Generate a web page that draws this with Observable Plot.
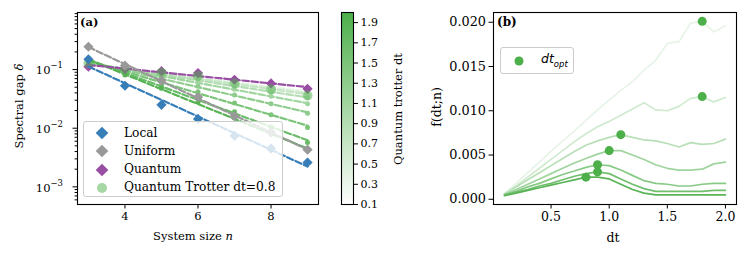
<!DOCTYPE html>
<html><head><meta charset="utf-8">
<script src="https://cdn.jsdelivr.net/npm/d3@7"></script>
<script src="https://cdn.jsdelivr.net/npm/@observablehq/plot@0.6"></script>
<style>
body{margin:0;background:#fff;}
#wrap{position:relative;width:748px;height:257px;font-family:"DejaVu Serif","Liberation Serif",serif;font-size:11px;color:#000;overflow:hidden;}
#wrap > *{position:absolute;}
.rot{transform:translate(-50%,-50%) rotate(-90deg);white-space:nowrap;}
.ctr{transform:translate(-50%,-50%);white-space:nowrap;}
.leg{background:rgba(255,255,255,0.8);border:1px solid #cccccc;border-radius:3px;box-sizing:border-box;}
.row{position:absolute;white-space:nowrap;line-height:1;}
</style></head><body><div id="wrap"></div>
<script>
// ---------- Panel (a) data ----------
const sizes = [3, 4, 5, 6, 7, 8, 9];
const localGap   = [0.150, 0.053, 0.025, 0.0144, 0.0074, 0.0045, 0.0026];
const uniformGap = [0.245, 0.117, 0.065, 0.034, 0.016, 0.0085, 0.0043];
const quantumGap = [0.112, 0.102, 0.094, 0.087, 0.067, 0.058, 0.047];
const trotterDt = [0.1, 0.3, 0.5, 0.7, 0.9, 1.1, 1.3, 1.5, 1.7, 1.9];
const trotterGap = [
  [0.118, 0.100, 0.089, 0.080, 0.062, 0.053, 0.043],
  [0.120, 0.100, 0.088, 0.078, 0.060, 0.051, 0.041],
  [0.122, 0.101, 0.087, 0.076, 0.058, 0.049, 0.039],
  [0.125, 0.101, 0.085, 0.073, 0.056, 0.047, 0.037],
  [0.128, 0.100, 0.082, 0.068, 0.052, 0.042, 0.033],
  [0.131, 0.099, 0.078, 0.061, 0.046, 0.035, 0.026],
  [0.133, 0.095, 0.071, 0.052, 0.037, 0.026, 0.018],
  [0.135, 0.090, 0.062, 0.042, 0.027, 0.017, 0.0103],
  [0.138, 0.085, 0.054, 0.033, 0.019, 0.0105, 0.0057],
  [0.140, 0.081, 0.048, 0.028, 0.015, 0.0080, 0.0042]
];
const highlightDt = 0.8;
const highlightGap = [0.128, 0.102, 0.088, 0.078, 0.058, 0.046, 0.036];
const yTicksA = [1e-3, 1e-2, 1e-1];
const xTicksA = [4, 6, 8];
const cbarTicks = [0.1, 0.3, 0.5, 0.7, 0.9, 1.1, 1.3, 1.5, 1.7, 1.9];

// ---------- Panel (b) data ----------
const dtGrid = [0.1,0.2,0.3,0.4,0.5,0.6,0.7,0.8,0.9,1.0,1.1,1.2,1.3,1.4,1.5,1.6,1.7,1.8,1.9,2.0];
const fSizes = [3, 4, 5, 6, 7, 8, 9];
const fValues = [
  [0.0006,0.0018,0.0030,0.0042,0.0054,0.0066,0.0077,0.0089,0.0101,0.0112,0.0123,0.0133,0.0146,0.0157,0.0176,0.0178,0.0199,0.0201,0.0189,0.0196],
  [0.0006,0.0015,0.0025,0.0035,0.0045,0.0055,0.0065,0.0074,0.0082,0.0088,0.0095,0.0102,0.0109,0.0101,0.0100,0.0105,0.0114,0.0116,0.0110,0.0115],
  [0.0006,0.0014,0.0022,0.0030,0.0038,0.0046,0.0054,0.0061,0.0066,0.0070,0.0073,0.0070,0.0067,0.0066,0.0063,0.0059,0.0064,0.0062,0.0063,0.0068],
  [0.0005,0.0011,0.0017,0.0023,0.0029,0.0035,0.0041,0.0046,0.0051,0.0055,0.0055,0.0050,0.0045,0.0039,0.0035,0.0033,0.0033,0.0034,0.0040,0.0042],
  [0.0005,0.0009,0.0014,0.0018,0.0023,0.0028,0.0032,0.0036,0.0039,0.0038,0.0033,0.0027,0.0021,0.0018,0.0017,0.0015,0.0015,0.0017,0.0018,0.0018],
  [0.0005,0.0008,0.0011,0.0015,0.0018,0.0022,0.0026,0.0029,0.0031,0.0029,0.0023,0.0017,0.0012,0.0009,0.0009,0.0009,0.0009,0.0009,0.0010,0.0010],
  [0.0004,0.0007,0.0010,0.0013,0.0016,0.0019,0.0022,0.0025,0.0025,0.0023,0.0017,0.0011,0.0007,0.0005,0.0005,0.0005,0.0005,0.0005,0.0005,0.0005]
];
const dtOpt = [1.8, 1.8, 1.1, 1.0, 0.9, 0.9, 0.8];
const fOpt = [0.0201, 0.0116, 0.0073, 0.0055, 0.0039, 0.0031, 0.0025];
const xTicksB = [0.5, 1.0, 1.5, 2.0];
const yTicksB = [0, 0.005, 0.010, 0.015, 0.020];

// ---------- helpers ----------
const FONT = "'DejaVu Serif', 'Liberation Serif', serif";
const GREEN = "#4daf4a", BLUE = "#377eb8", GRAY = "#999999", PURPLE = "#984ea3";
function fitLine(vals) {
  const lx = sizes, ly = vals.map(Math.log10);
  const mx = d3.mean(lx), my = d3.mean(ly);
  const b = d3.sum(lx, (x, i) => (x - mx) * (ly[i] - my)) / d3.sum(lx, x => (x - mx) ** 2);
  return d3.extent(sizes).map(n => ({n, v: 10 ** (my + b * (n - mx))}));
}
const pts = vals => sizes.map((n, i) => ({n, v: vals[i]}));
const minorA = [];
for (let k = -4; k <= 0; k++) for (let m = 2; m <= 9; m++) { const v = m * 10 ** k; if (v > 5e-4 && v < 0.94) minorA.push(v); }

const trotRows = trotterDt.flatMap((dt, j) => sizes.map((n, i) => ({dt, n, v: trotterGap[j][i]})));
const trotFit = trotterDt.flatMap((dt, j) => fitLine(trotterGap[j]).map(p => ({...p, dt})));

const dash = "6.5,2.6";
const colorA = {type: "linear", domain: [0.1, 2.0], range: ["#ffffff", GREEN]};
const baseStyle = {fontFamily: FONT, fontSize: "11px", color: "#000", background: "transparent", overflow: "visible"};

const plotA = Plot.plot({
  width: 330, height: 257, marginLeft: 77, marginRight: 12, marginTop: 12, marginBottom: 53,
  style: baseStyle,
  x: {domain: [2.7, 9.3]},
  y: {type: "log", domain: [5e-4, 0.94]},
  color: colorA,
  marks: [
    Plot.axisY({ticks: minorA, tickSize: 2.4, tickFormat: () => "", label: null}),
    Plot.axisY({ticks: yTicksA, tickSize: 4.5, tickFormat: () => "", label: null}),
    Plot.text(yTicksA, {y: d => d, frameAnchor: "left", text: () => "10", textAnchor: "end", dx: -27, dy: 1, fontSize: 11.5}),
    Plot.text(yTicksA, {y: d => d, frameAnchor: "left", text: d => "\u2212" + Math.round(-Math.log10(d)), textAnchor: "start", dx: -27, dy: -4, fontSize: 8.5}),
    Plot.axisX({ticks: xTicksA, tickSize: 4.5, tickPadding: 3, tickFormat: d3.format("d"), label: null, fontSize: 11.5}),
    Plot.line(trotFit, {x: "n", y: "v", z: "dt", stroke: "dt", strokeWidth: 2.2, strokeDasharray: dash}),
    Plot.dot(trotRows, {x: "n", y: "v", fill: "dt", r: 2.5}),
    Plot.line(fitLine(quantumGap), {x: "n", y: "v", stroke: PURPLE, strokeWidth: 2.2, strokeDasharray: dash}),
    Plot.dot(pts(quantumGap), {x: "n", y: "v", symbol: "diamond2", r: 4.6, fill: PURPLE}),
    Plot.dot(pts(highlightGap), {x: "n", y: "v", r: 5, fill: GREEN, fillOpacity: 0.5}),
    Plot.line(fitLine(localGap), {x: "n", y: "v", stroke: BLUE, strokeWidth: 2.2, strokeDasharray: dash}),
    Plot.dot(pts(localGap), {x: "n", y: "v", symbol: "diamond2", r: 4.6, fill: BLUE}),
    Plot.line(fitLine(uniformGap), {x: "n", y: "v", stroke: GRAY, strokeWidth: 2.2, strokeDasharray: dash}),
    Plot.dot(pts(uniformGap), {x: "n", y: "v", symbol: "diamond2", r: 4.6, fill: GRAY}),
    Plot.frame({stroke: "#000", strokeWidth: 1.1})
  ]
});

const plotC = Plot.plot({
  width: 90, height: 257, marginLeft: 11, marginRight: 67, marginTop: 12, marginBottom: 53,
  style: baseStyle,
  x: {domain: [0, 1], axis: null},
  y: {domain: [0.1, 2.0]},
  color: colorA,
  marks: [
    Plot.raster({x1: 0, x2: 1, y1: 0.1, y2: 2.0, fill: (x, y) => y, pixelSize: 1}),
    Plot.axisY({anchor: "right", ticks: cbarTicks, tickSize: 4, tickPadding: 3, tickFormat: d3.format(".1f"), label: null, fontSize: 11}),
    Plot.frame({stroke: "#000", strokeWidth: 1.1})
  ]
});

const fRows = fSizes.flatMap((n, j) => dtGrid.map((dt, i) => ({n, dt, f: fValues[j][i]})));
const optRows = fSizes.map((n, j) => ({n, dt: dtOpt[j], f: fOpt[j]}));

const plotB = Plot.plot({
  width: 328, height: 257, marginLeft: 73, marginRight: 12, marginTop: 12, marginBottom: 53,
  style: {...baseStyle, fontSize: "12.5px"},
  x: {domain: [0.005, 2.095]},
  y: {domain: [-0.00059, 0.0211]},
  color: {type: "linear", domain: [2, 9.5], range: ["#ffffff", GREEN]},
  marks: [
    Plot.axisY({ticks: yTicksB, tickSize: 4.5, tickPadding: 3, tickFormat: d3.format(".3f"), label: null, fontSize: 12.8}),
    Plot.axisX({ticks: xTicksB, tickSize: 4.5, tickPadding: 3, tickFormat: d3.format(".1f"), label: null, fontSize: 12.5}),
    Plot.line(fRows, {x: "dt", y: "f", z: "n", stroke: "n", strokeWidth: 1.7}),
    Plot.dot(optRows, {x: "dt", y: "f", r: 4.5, fill: GREEN}),
    Plot.frame({stroke: "#000", strokeWidth: 1.1})
  ]
});

const wrap = document.getElementById("wrap");
plotA.style.left = "0px"; plotA.style.top = "0px";
plotC.style.left = "330px"; plotC.style.top = "0px";
plotB.style.left = "420px"; plotB.style.top = "0px";
wrap.append(plotA, plotC, plotB);

function addHTML(html, css, cls) {
  const d = document.createElement("div");
  if (cls) d.className = cls;
  d.innerHTML = html;
  Object.assign(d.style, css);
  wrap.appendChild(d);
  return d;
}
// labels
addHTML("(a)", {left: "80px", top: "15px", fontWeight: "bold", fontSize: "11.5px"});
addHTML("(b)", {left: "497px", top: "15px", fontWeight: "bold", fontSize: "12px"});
addHTML("Spectral gap <i>δ</i>", {left: "19px", top: "106px", fontSize: "11.5px"}, "rot");
addHTML("System size <i>n</i>", {left: "193px", top: "236px", fontSize: "11.5px"}, "ctr");
addHTML("Quantum trotter dt", {left: "398px", top: "109px", fontSize: "11.5px"}, "rot");
addHTML("f(dt;n)", {left: "436px", top: "107px", fontSize: "12.5px"}, "rot");
addHTML("dt", {left: "613px", top: "237px", fontSize: "12.5px"}, "ctr");

// legend (a)
const legItems = [["Local", BLUE, "d"], ["Uniform", GRAY, "d"], ["Quantum", PURPLE, "d"], ["Quantum Trotter dt=" + highlightDt, GREEN, "c"]];
let lh = "";
legItems.forEach(([t, c, s], i) => {
  const y = 11 + i * 18.3;
  const mk = s === "d"
    ? `<svg width="14" height="14" style="position:absolute;left:${11}px;top:${y - 7}px"><path d="M7,0.7L13.3,7L7,13.3L0.7,7Z" fill="${c}"/></svg>`
    : `<svg width="14" height="14" style="position:absolute;left:${11}px;top:${y - 7}px"><circle cx="7" cy="7" r="5" fill="${c}" fill-opacity="0.5"/></svg>`;
  lh += mk + `<div class="row" style="left:40px;top:${y - 6.5}px;font-size:12.2px">${t}</div>`;
});
addHTML(lh, {left: "83px", top: "121px", width: "200px", height: "76px"}, "leg");
// legend (b)
addHTML(`<svg width="12" height="12" style="position:absolute;left:12px;top:7px"><circle cx="6" cy="6" r="4.5" fill="${GREEN}"/></svg><div class="row" style="left:40px;top:5px;font-family:'DejaVu Sans';font-style:italic;font-size:12.5px">dt<sub style="font-size:8.5px">opt</sub></div>`,
  {left: "500px", top: "47px", width: "74px", height: "27px"}, "leg");
</script></body></html>
